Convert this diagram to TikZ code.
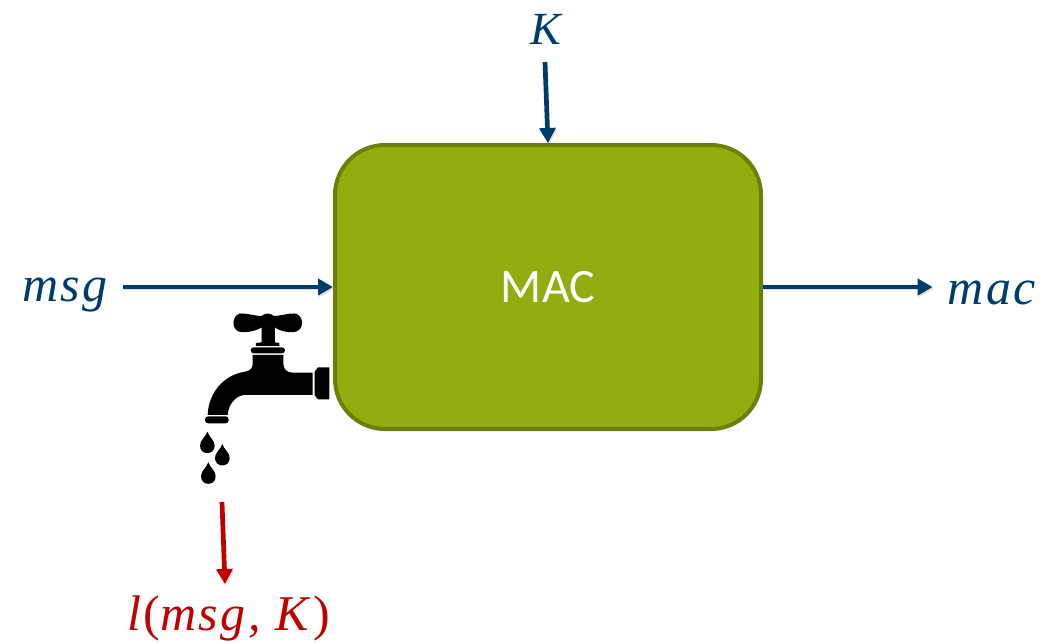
\documentclass[tikz,border=0pt]{standalone}
\usepackage{xcolor}
\usepackage{fontspec}
\setmainfont{Liberation Serif}
\setsansfont{Carlito}
\usepackage{tikz}
\usetikzlibrary{positioning, arrows.meta}
\definecolor{macgreen}{HTML}{92AD10}
\definecolor{macedge}{HTML}{6B7F0B}
\definecolor{wirenavy}{HTML}{003B69}
\definecolor{leakred}{HTML}{C00000}

\begin{document}
\begin{tikzpicture}[
    x=1pt, y=-1pt,
    mainbox/.style={
        draw=macedge, line width=4pt, fill=macgreen, rounded corners=50pt,
        minimum width=426pt, minimum height=284pt, inner sep=0pt,
        text=white, font=\sffamily\fontsize{48}{52}\selectfont,
    },
    signal/.style={
        inner sep=0pt, text=wirenavy,
        font=\itshape\fontsize{50}{54}\selectfont\addfontfeatures{LetterSpace=5},
    },
    leaktext/.style={signal, text=leakred},
    wire/.style={
        -{Triangle[length=15pt, width=16pt]}, draw=wirenavy, line width=4.7pt,
        preaction={draw=black, opacity=.12, transform canvas={xshift=1pt, yshift=-2pt}},
    },
    leakwire/.style={wire, draw=leakred},
    tap/.style={fill=black, draw=none},
]
\useasboundingbox (0,0) rectangle (1043,642);

\node[mainbox] (mac) at (548,287) {\raisebox{-2pt}{MAC}};
\node[signal] (msg) at (65,295) {msg};
\node[signal] (tag) at (992,293) {mac};
\node[signal, font=\itshape\fontsize{46}{50}\selectfont] (key) at (546,29) {K};
\node[leaktext] (leak) at (229,618) {l\textup{(}msg, K\textup{)}};

\coordinate (keystart) at (545,62);
\coordinate (leakstart) at (222,502);
\coordinate (leakend) at (225,584);

\draw[wire] (keystart) -- (mac.north);
\draw[wire] ([xshift=15pt]msg.east |- mac.west) -- (mac.west);
\draw[wire] (mac.east) -- ([xshift=-15pt]tag.west |- mac.east);
\draw[leakwire] (leakstart) -- (leakend);

% tap, drawn in 3x crop units
\begin{scope}[shift={(180,290)}, x=.3333pt, y=-.3333pt]
\path[tap] (245,112) .. controls (225,125) and (190,130) .. (175,124)
    .. controls (155,115) and (155,80) .. (178,71)
    .. controls (195,68) and (225,78) .. (245,78)
    .. controls (255,68) and (270,68) .. (282,78)
    .. controls (300,78) and (330,68) .. (348,71)
    .. controls (372,80) and (372,115) .. (350,124)
    .. controls (335,130) and (300,125) .. (285,112)
    -- (285,157) -- (298,159) -- (298,168) -- (228,168) -- (228,159) -- (245,157) -- cycle;
\path[tap, rounded corners=3pt] (212,172) rectangle (315,190);
\path[tap] (218,195) -- (310,195) -- (310,222)
    .. controls (311,240) and (322,248) .. (340,248)
    -- (398,248) -- (398,315) -- (192,315)
    .. controls (165,318) and (145,345) .. (143,375)
    -- (83,375) .. controls (85,310) and (130,255) .. (195,245)
    .. controls (210,242) and (218,235) .. (218,222) -- cycle;
\path[tap, rounded corners=3pt] (75,379) rectangle (146,400);
\path[tap] (404,245) -- (414,232) -- (448,232) -- (448,328) -- (414,328) -- (404,316) -- cycle;
\foreach \dropx/\dropy in {82/425, 127/462, 85/517} {
    \path[tap] (\dropx,\dropy)
        .. controls (\dropx+6,\dropy+18) and (\dropx+22,\dropy+25) .. (\dropx+22,\dropy+42)
        .. controls (\dropx+22,\dropy+72) and (\dropx-22,\dropy+72) .. (\dropx-22,\dropy+42)
        .. controls (\dropx-22,\dropy+25) and (\dropx-6,\dropy+18) .. (\dropx,\dropy) -- cycle;
}
\end{scope}

\end{tikzpicture}
\end{document}
